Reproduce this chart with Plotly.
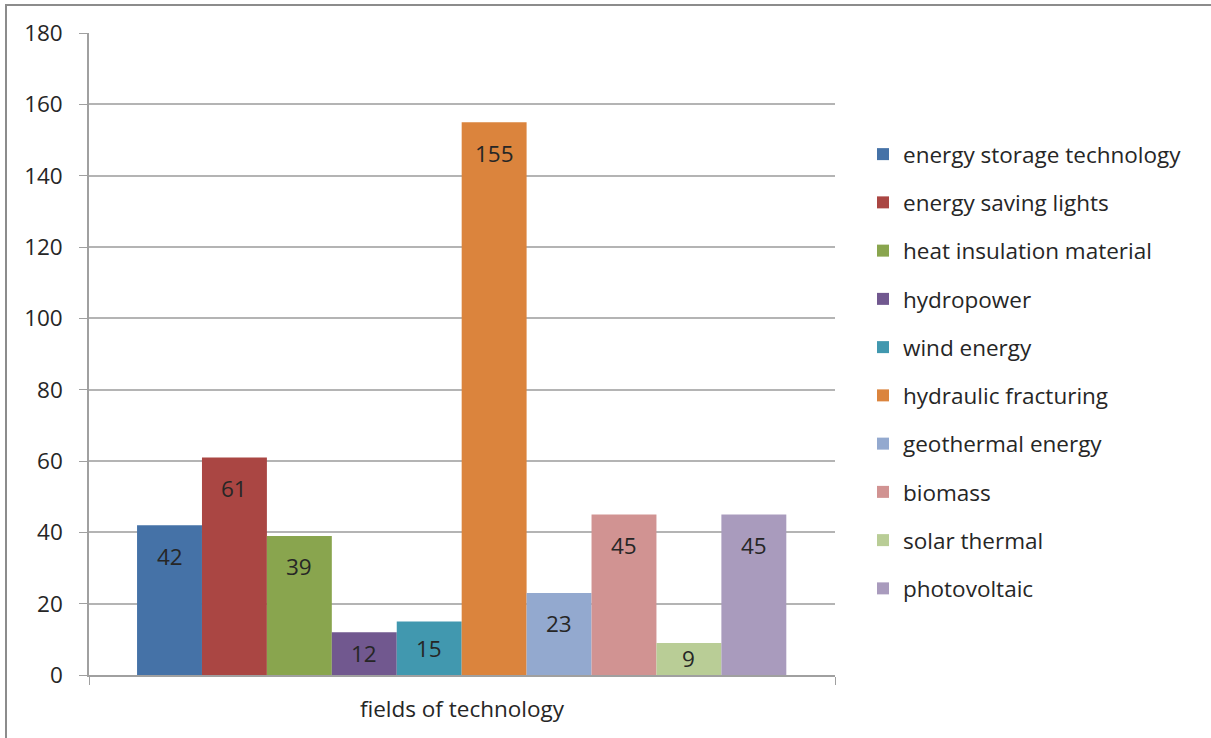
import plotly.graph_objects as go

series = ["energy storage technology", "energy saving lights", "heat insulation material",
          "hydropower", "wind energy", "hydraulic fracturing", "geothermal energy",
          "biomass", "solar thermal", "photovoltaic"]
values = [42, 61, 39, 12, 15, 155, 23, 45, 9, 45]
colors = ["#4572A7", "#AA4643", "#89A54E", "#71588F", "#4198AF",
          "#DB843D", "#93A9CF", "#D19392", "#B9CD96", "#A99BBD"]
category = "fields of technology"
y_ticks = [0, 20, 40, 60, 80, 100, 120, 140, 160, 180]

FONT = "Open Sans"
FS = 22.5
TXT = "#262626"

fig = go.Figure()
for i, (name, v, c) in enumerate(zip(series, values, colors)):
    fig.add_trace(go.Bar(
        x=[i], y=[v], name=name, width=1,
        marker=dict(color=c, line=dict(width=0)),
        legendgroup=name, hoverinfo="name+y",
    ))
    if v >= 20:
        fig.add_annotation(x=i, y=v, yshift=-31, text=str(v), showarrow=False,
                           xref="x", yref="y", yanchor="middle",
                           font=dict(family=FONT, size=FS, color=TXT))
    else:
        fig.add_annotation(x=i, y=v / 2, text=str(v), showarrow=False,
                           xref="x", yref="y", yanchor="middle",
                           font=dict(family=FONT, size=FS, color=TXT))

xlo, xhi = -1.24, len(series) - 1 + 1.25

fig.update_layout(
    width=1211, height=738,
    margin=dict(l=89, r=1211 - 835, t=33, b=738 - 675),
    paper_bgcolor="white", plot_bgcolor="white",
    barmode="overlay",
    font=dict(family=FONT, size=FS, color=TXT),
    showlegend=True,
    legend=dict(x=(863 - 89) / 746, xanchor="left", y=(675 - 133) / 642, yanchor="top",
                tracegroupgap=16, font=dict(family=FONT, size=FS, color=TXT),
                bgcolor="rgba(0,0,0,0)", itemclick=False),
    xaxis=dict(range=[xlo, xhi], tickvals=[xlo, xhi], ticktext=["", ""],
               ticks="outside", ticklen=8, tickcolor="#a0a0a0",
               showline=True, linecolor="#a0a0a0", linewidth=1.5,
               showgrid=False, zeroline=False, fixedrange=True,
               title=dict(text=category, standoff=13, font=dict(family=FONT, size=FS, color=TXT))),
    yaxis=dict(range=[0, 180], tickvals=y_ticks, ticks="outside", ticklen=8,
               tickcolor="#a0a0a0", showline=True, linecolor="#a0a0a0", linewidth=1.5,
               gridcolor="#b4b4b4", gridwidth=1.5, zeroline=False, ticklabelstandoff=12,
               tickfont=dict(family=FONT, size=FS, color=TXT), fixedrange=True),
)

fig.add_shape(type="rect", xref="paper", yref="paper",
              x0=(6 - 89) / 746, x1=(1230 - 89) / 746,
              y0=(675 - 760) / 642, y1=(675 - 5) / 642,
              line=dict(color="#8c8c8c", width=2), fillcolor="rgba(0,0,0,0)", layer="below")

fig.write_html("out.html")
